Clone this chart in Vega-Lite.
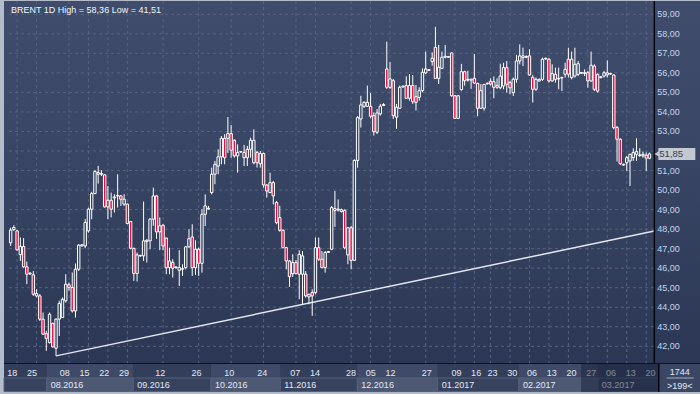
{
  "$schema": "https://vega.github.io/schema/vega-lite/v6.json",
  "autosize": {"type": "pad"},
  "padding": {"left": 3, "top": 0, "right": 0, "bottom": 3},
  "background": "#b4bccb",
  "spacing": 0,
  "bounds": "flush",
  "config": {"view": {"stroke": null}, "font": "Liberation Sans", "axis": {"disable": true}},
  "datasets": {
    "candles": [
      {"i":0,"o":47.3,"h":48.07,"l":47.14,"c":47.95},
      {"i":1,"o":47.98,"h":48.2,"l":47.9,"c":48.08},
      {"i":2,"o":47.91,"h":47.94,"l":46.89,"c":46.94},
      {"i":3,"o":46.7,"h":47.57,"l":46.37,"c":47.12},
      {"i":4,"o":47.11,"h":47.54,"l":46.03,"c":46.07},
      {"i":5,"o":46.07,"h":46.34,"l":45.18,"c":45.69},
      {"i":6,"o":45.74,"h":45.8,"l":45.66,"c":45.7},
      {"i":7,"o":45.66,"h":45.86,"l":44.58,"c":44.67},
      {"i":8,"o":44.58,"h":44.92,"l":44.5,"c":44.7},
      {"i":9,"o":44.58,"h":44.67,"l":43.3,"c":43.39},
      {"i":10,"o":43.39,"h":43.73,"l":42.59,"c":42.62},
      {"i":11,"o":42.65,"h":42.79,"l":41.77,"c":42.41},
      {"i":12,"o":42.19,"h":43.73,"l":42.14,"c":43.64},
      {"i":13,"o":43.17,"h":43.22,"l":41.94,"c":41.97},
      {"i":14,"o":41.9,"h":43.44,"l":41.51,"c":43.39},
      {"i":15,"o":43.39,"h":44.33,"l":42.53,"c":44.19},
      {"i":16,"o":43.47,"h":44.5,"l":43.45,"c":44.41},
      {"i":17,"o":44.33,"h":45.69,"l":44.24,"c":45.18},
      {"i":18,"o":45.15,"h":45.27,"l":44.85,"c":45.01},
      {"i":19,"o":45.01,"h":45.78,"l":43.73,"c":43.81},
      {"i":20,"o":43.81,"h":46.24,"l":43.47,"c":45.95},
      {"i":21,"o":45.95,"h":47.23,"l":45.86,"c":47.18},
      {"i":22,"o":47.14,"h":47.23,"l":47.1,"c":47.2},
      {"i":23,"o":47.14,"h":48.51,"l":47.02,"c":48.34},
      {"i":24,"o":47.91,"h":49.1,"l":47.82,"c":49.02},
      {"i":25,"o":49.02,"h":49.91,"l":48.51,"c":49.82},
      {"i":26,"o":49.82,"h":51.02,"l":49.79,"c":50.95},
      {"i":27,"o":50.9,"h":51.24,"l":50.33,"c":50.81},
      {"i":28,"o":50.81,"h":51.02,"l":50.72,"c":50.85},
      {"i":29,"o":50.78,"h":50.81,"l":49.1,"c":49.14},
      {"i":30,"o":49.14,"h":50.21,"l":48.51,"c":49.48},
      {"i":31,"o":49.48,"h":49.87,"l":48.6,"c":49.02},
      {"i":32,"o":49.6,"h":49.79,"l":48.85,"c":49.65},
      {"i":33,"o":49.7,"h":50.81,"l":49.1,"c":49.72},
      {"i":34,"o":49.7,"h":49.75,"l":49.19,"c":49.53},
      {"i":35,"o":49.28,"h":49.79,"l":49.19,"c":49.53},
      {"i":36,"o":49.28,"h":49.31,"l":48.25,"c":48.29},
      {"i":37,"o":48.39,"h":48.42,"l":46.97,"c":47.02},
      {"i":38,"o":47.01,"h":47.06,"l":45.35,"c":45.73},
      {"i":39,"o":45.73,"h":46.8,"l":45.32,"c":46.68},
      {"i":40,"o":46.63,"h":46.68,"l":46.58,"c":46.66},
      {"i":41,"o":46.63,"h":49.41,"l":46.37,"c":47.4},
      {"i":42,"o":47.43,"h":47.48,"l":46.29,"c":47.36},
      {"i":43,"o":47.4,"h":48.56,"l":46.97,"c":48.51},
      {"i":44,"o":48.51,"h":50.13,"l":48.17,"c":49.7},
      {"i":45,"o":49.7,"h":49.75,"l":47.5,"c":47.86},
      {"i":46,"o":47.86,"h":48.6,"l":46.92,"c":48.17},
      {"i":47,"o":48.2,"h":48.25,"l":46.92,"c":47.14},
      {"i":48,"o":47.54,"h":47.57,"l":45.69,"c":46.03},
      {"i":49,"o":46.03,"h":47.05,"l":45.69,"c":46.37},
      {"i":50,"o":46.29,"h":46.46,"l":45.52,"c":46.0},
      {"i":51,"o":46.06,"h":46.1,"l":45.97,"c":46.03},
      {"i":52,"o":45.89,"h":46.92,"l":45.09,"c":46.03},
      {"i":53,"o":45.97,"h":46.2,"l":45.6,"c":45.95},
      {"i":54,"o":46.03,"h":47.14,"l":45.94,"c":47.09},
      {"i":55,"o":47.09,"h":48.0,"l":47.05,"c":47.51},
      {"i":56,"o":47.6,"h":48.25,"l":45.6,"c":46.03},
      {"i":57,"o":46.03,"h":47.43,"l":45.65,"c":46.97},
      {"i":58,"o":46.97,"h":47.05,"l":45.6,"c":46.25},
      {"i":59,"o":46.25,"h":49.02,"l":45.77,"c":48.76},
      {"i":60,"o":48.76,"h":49.78,"l":48.16,"c":49.19},
      {"i":61,"o":49.03,"h":49.19,"l":49.0,"c":49.07},
      {"i":62,"o":49.87,"h":51.15,"l":49.78,"c":50.81},
      {"i":63,"o":50.81,"h":51.49,"l":50.3,"c":51.32},
      {"i":64,"o":51.23,"h":52.09,"l":50.81,"c":51.7},
      {"i":65,"o":51.7,"h":52.77,"l":51.32,"c":52.65},
      {"i":66,"o":52.65,"h":52.86,"l":51.32,"c":51.66},
      {"i":67,"o":52.65,"h":53.74,"l":51.9,"c":52.89},
      {"i":68,"o":52.89,"h":53.33,"l":51.66,"c":52.04},
      {"i":69,"o":52.55,"h":52.6,"l":51.66,"c":51.75},
      {"i":70,"o":51.75,"h":52.34,"l":50.89,"c":51.92},
      {"i":71,"o":51.95,"h":52.0,"l":51.9,"c":51.97},
      {"i":72,"o":51.66,"h":52.31,"l":51.23,"c":51.92},
      {"i":73,"o":52.09,"h":52.26,"l":51.23,"c":51.66},
      {"i":74,"o":52.09,"h":52.68,"l":51.66,"c":52.55},
      {"i":75,"o":51.4,"h":53.11,"l":51.32,"c":52.55},
      {"i":76,"o":51.92,"h":52.0,"l":51.15,"c":51.4},
      {"i":77,"o":51.35,"h":52.0,"l":51.15,"c":51.87},
      {"i":78,"o":51.87,"h":51.92,"l":50.12,"c":50.26},
      {"i":79,"o":50.26,"h":50.3,"l":49.61,"c":49.95},
      {"i":80,"o":49.87,"h":50.89,"l":49.87,"c":50.38},
      {"i":81,"o":50.38,"h":50.47,"l":49.27,"c":49.7},
      {"i":82,"o":49.36,"h":49.44,"l":48.25,"c":48.33},
      {"i":83,"o":48.59,"h":49.19,"l":47.87,"c":47.94},
      {"i":84,"o":47.94,"h":47.99,"l":47.02,"c":47.05},
      {"i":85,"o":47.05,"h":47.09,"l":45.94,"c":46.37},
      {"i":86,"o":46.37,"h":46.41,"l":45.04,"c":45.57},
      {"i":87,"o":45.72,"h":46.71,"l":45.55,"c":46.29},
      {"i":88,"o":46.29,"h":46.41,"l":45.69,"c":45.72},
      {"i":89,"o":45.69,"h":46.92,"l":44.41,"c":46.71},
      {"i":90,"o":45.69,"h":46.88,"l":44.15,"c":46.63},
      {"i":91,"o":45.69,"h":45.85,"l":44.49,"c":44.58},
      {"i":92,"o":44.53,"h":44.7,"l":44.15,"c":44.66},
      {"i":93,"o":44.75,"h":44.92,"l":43.56,"c":44.58},
      {"i":94,"o":44.75,"h":47.57,"l":44.66,"c":47.05},
      {"i":95,"o":47.05,"h":47.57,"l":46.37,"c":46.46},
      {"i":96,"o":46.46,"h":46.88,"l":46.0,"c":46.03},
      {"i":97,"o":46.03,"h":46.88,"l":45.77,"c":46.8},
      {"i":98,"o":46.81,"h":46.88,"l":46.78,"c":46.85},
      {"i":99,"o":46.97,"h":49.19,"l":46.92,"c":49.1},
      {"i":100,"o":49.05,"h":49.95,"l":48.11,"c":48.96},
      {"i":101,"o":48.98,"h":49.52,"l":48.9,"c":49.02},
      {"i":102,"o":48.9,"h":49.05,"l":48.85,"c":48.99},
      {"i":103,"o":48.96,"h":49.01,"l":46.97,"c":47.05},
      {"i":104,"o":46.68,"h":48.11,"l":46.2,"c":48.07},
      {"i":105,"o":48.07,"h":48.16,"l":45.94,"c":46.4},
      {"i":106,"o":46.4,"h":51.57,"l":46.37,"c":51.52},
      {"i":107,"o":51.52,"h":53.79,"l":51.15,"c":53.71},
      {"i":108,"o":53.64,"h":54.83,"l":53.2,"c":54.36},
      {"i":109,"o":54.29,"h":54.55,"l":54.2,"c":54.49},
      {"i":110,"o":54.29,"h":55.35,"l":54.25,"c":54.49},
      {"i":111,"o":54.29,"h":54.97,"l":53.67,"c":53.78},
      {"i":112,"o":53.81,"h":53.98,"l":52.79,"c":52.99},
      {"i":113,"o":52.96,"h":54.15,"l":52.87,"c":53.95},
      {"i":114,"o":53.9,"h":54.41,"l":53.81,"c":54.29},
      {"i":115,"o":54.33,"h":54.45,"l":54.3,"c":54.38},
      {"i":116,"o":56.2,"h":57.6,"l":55.18,"c":55.26},
      {"i":117,"o":55.26,"h":56.55,"l":55.18,"c":55.69},
      {"i":118,"o":55.6,"h":55.69,"l":53.64,"c":53.81},
      {"i":119,"o":53.73,"h":54.41,"l":53.13,"c":54.24},
      {"i":120,"o":54.19,"h":55.35,"l":54.15,"c":55.26},
      {"i":121,"o":55.28,"h":55.35,"l":55.25,"c":55.32},
      {"i":122,"o":55.35,"h":55.82,"l":54.66,"c":54.7},
      {"i":123,"o":54.7,"h":55.94,"l":54.58,"c":55.35},
      {"i":124,"o":55.35,"h":55.89,"l":54.41,"c":54.53},
      {"i":125,"o":54.78,"h":55.38,"l":54.07,"c":54.49},
      {"i":126,"o":54.75,"h":55.26,"l":54.58,"c":55.09},
      {"i":127,"o":55.09,"h":56.23,"l":55.0,"c":56.03},
      {"i":128,"o":56.0,"h":57.09,"l":55.94,"c":56.2},
      {"i":129,"o":56.13,"h":56.2,"l":56.1,"c":56.17},
      {"i":130,"o":56.58,"h":57.05,"l":56.37,"c":56.75},
      {"i":131,"o":57.31,"h":58.36,"l":55.69,"c":55.72},
      {"i":132,"o":55.72,"h":57.43,"l":55.43,"c":56.29},
      {"i":133,"o":56.23,"h":57.09,"l":56.2,"c":56.8},
      {"i":134,"o":56.8,"h":57.43,"l":56.75,"c":56.85},
      {"i":135,"o":56.8,"h":56.86,"l":56.78,"c":56.84},
      {"i":136,"o":57.02,"h":57.05,"l":54.78,"c":54.83},
      {"i":137,"o":54.83,"h":54.86,"l":53.64,"c":53.67},
      {"i":138,"o":53.67,"h":54.86,"l":53.64,"c":54.83},
      {"i":139,"o":55.14,"h":56.46,"l":55.09,"c":56.06},
      {"i":140,"o":56.06,"h":56.11,"l":55.35,"c":55.6},
      {"i":141,"o":55.63,"h":56.11,"l":55.55,"c":55.67},
      {"i":142,"o":55.63,"h":55.69,"l":55.18,"c":55.68},
      {"i":143,"o":55.72,"h":56.97,"l":55.43,"c":55.48},
      {"i":144,"o":55.46,"h":55.5,"l":53.78,"c":54.19},
      {"i":145,"o":54.19,"h":55.43,"l":54.15,"c":55.09},
      {"i":146,"o":54.19,"h":55.43,"l":54.07,"c":55.41},
      {"i":147,"o":55.44,"h":55.5,"l":55.4,"c":55.47},
      {"i":148,"o":55.57,"h":55.72,"l":55.35,"c":55.43},
      {"i":149,"o":55.26,"h":55.82,"l":54.7,"c":55.55},
      {"i":150,"o":55.35,"h":55.72,"l":55.18,"c":55.26},
      {"i":151,"o":55.24,"h":56.47,"l":55.16,"c":55.84},
      {"i":152,"o":55.33,"h":56.52,"l":55.16,"c":56.27},
      {"i":153,"o":56.27,"h":56.61,"l":54.99,"c":55.42},
      {"i":154,"o":55.5,"h":55.59,"l":54.9,"c":55.24},
      {"i":155,"o":54.99,"h":55.76,"l":54.82,"c":55.67},
      {"i":156,"o":55.67,"h":56.92,"l":55.5,"c":56.61},
      {"i":157,"o":56.61,"h":57.46,"l":56.44,"c":56.87},
      {"i":158,"o":56.78,"h":57.29,"l":56.35,"c":56.87},
      {"i":159,"o":56.8,"h":56.9,"l":56.75,"c":56.84},
      {"i":160,"o":56.87,"h":57.21,"l":55.84,"c":55.89},
      {"i":161,"o":55.76,"h":55.89,"l":54.48,"c":55.16},
      {"i":162,"o":55.16,"h":55.76,"l":55.07,"c":55.67},
      {"i":163,"o":55.59,"h":55.72,"l":55.55,"c":55.67},
      {"i":164,"o":55.67,"h":56.78,"l":55.59,"c":56.7},
      {"i":165,"o":56.71,"h":56.78,"l":56.68,"c":56.75},
      {"i":166,"o":56.7,"h":56.75,"l":55.5,"c":55.59},
      {"i":167,"o":55.59,"h":56.44,"l":55.55,"c":55.96},
      {"i":168,"o":55.93,"h":56.27,"l":55.5,"c":55.67},
      {"i":169,"o":55.69,"h":56.27,"l":55.16,"c":55.72},
      {"i":170,"o":55.74,"h":55.8,"l":55.07,"c":55.77},
      {"i":171,"o":55.93,"h":56.52,"l":55.76,"c":56.18},
      {"i":172,"o":56.7,"h":57.29,"l":55.76,"c":55.93},
      {"i":173,"o":55.76,"h":57.09,"l":55.67,"c":56.7},
      {"i":174,"o":55.84,"h":57.29,"l":55.76,"c":56.44},
      {"i":175,"o":55.93,"h":56.61,"l":55.84,"c":56.47},
      {"i":176,"o":55.98,"h":56.05,"l":55.95,"c":56.02},
      {"i":177,"o":55.97,"h":56.18,"l":55.84,"c":56.01},
      {"i":178,"o":56.01,"h":56.1,"l":55.24,"c":55.59},
      {"i":179,"o":55.59,"h":57.09,"l":55.55,"c":56.39},
      {"i":180,"o":56.35,"h":56.44,"l":55.07,"c":55.16},
      {"i":181,"o":55.93,"h":55.96,"l":54.99,"c":55.07},
      {"i":182,"o":55.76,"h":55.84,"l":55.72,"c":55.8},
      {"i":183,"o":55.84,"h":56.1,"l":55.76,"c":56.01},
      {"i":184,"o":55.9,"h":56.64,"l":55.76,"c":56.0},
      {"i":185,"o":55.94,"h":56.0,"l":55.9,"c":55.97},
      {"i":186,"o":55.89,"h":55.93,"l":53.11,"c":53.2},
      {"i":187,"o":53.2,"h":53.28,"l":51.46,"c":52.6},
      {"i":188,"o":52.6,"h":52.65,"l":51.28,"c":51.35},
      {"i":189,"o":51.32,"h":51.35,"l":51.25,"c":51.28},
      {"i":190,"o":51.4,"h":51.75,"l":50.98,"c":51.66},
      {"i":191,"o":51.49,"h":51.87,"l":50.21,"c":51.83},
      {"i":192,"o":51.66,"h":52.14,"l":51.49,"c":51.92},
      {"i":193,"o":51.83,"h":52.65,"l":51.49,"c":51.97},
      {"i":194,"o":51.77,"h":52.14,"l":51.7,"c":51.8},
      {"i":195,"o":51.83,"h":51.97,"l":51.66,"c":51.75},
      {"i":196,"o":51.78,"h":51.92,"l":50.98,"c":51.63},
      {"i":197,"o":51.63,"h":51.92,"l":51.58,"c":51.85}
    ],
    "days": [
      {"i":2,"d":"18"},{"i":8,"d":"25"},{"i":18,"d":"08"},{"i":24,"d":"15"},{"i":30,"d":"22"},{"i":36,"d":"29"},
      {"i":47,"d":"12"},{"i":58,"d":"26"},{"i":68,"d":"10"},{"i":78,"d":"24"},{"i":88,"d":"07"},{"i":94,"d":"14"},
      {"i":105,"d":"28"},{"i":111,"d":"05"},{"i":117,"d":"12"},{"i":128,"d":"27"},{"i":137,"d":"09"},{"i":143,"d":"16"},
      {"i":148,"d":"23"},{"i":154,"d":"30"},{"i":160,"d":"06"},{"i":166,"d":"13"},{"i":172,"d":"20"},{"i":178,"d":"27"},
      {"i":184,"d":"06"},{"i":190,"d":"13"},{"i":196,"d":"20"}
    ],
    "months": [
      {"m":"07.2016","n":7,"from":-0.5,"to":12.5},
      {"m":"08.2016","n":8,"from":12.5,"to":38.8},
      {"m":"09.2016","n":9,"from":38.8,"to":62.4},
      {"m":"10.2016","n":10,"from":62.4,"to":83.5},
      {"m":"11.2016","n":11,"from":83.5,"to":106.9},
      {"m":"12.2016","n":12,"from":106.9,"to":131.3},
      {"m":"01.2017","n":1,"from":131.3,"to":156.0},
      {"m":"02.2017","n":2,"from":156.0,"to":180.0},
      {"m":"03.2017","n":3,"from":180.0,"to":198.5}
    ],
    "levels": [
      {"lv":42,"t":"42,00"},{"lv":43,"t":"43,00"},{"lv":44,"t":"44,00"},{"lv":45,"t":"45,00"},{"lv":46,"t":"46,00"},
      {"lv":47,"t":"47,00"},{"lv":48,"t":"48,00"},{"lv":49,"t":"49,00"},{"lv":50,"t":"50,00"},{"lv":51,"t":"51,00"},
      {"lv":52,"t":""},{"lv":53,"t":"53,00"},{"lv":54,"t":"54,00"},{"lv":55,"t":"55,00"},{"lv":56,"t":"56,00"},
      {"lv":57,"t":"57,00"},{"lv":58,"t":"58,00"},{"lv":59,"t":"59,00"}
    ],
    "trend": [{"i":14,"p":41.51},{"i":198.5,"p":47.9}],
    "last": [{"p":51.85,"t":"51,85"}]
  },
  "vconcat": [
    {
      "width": 697,
      "height": 363,
      "view": {
        "stroke": null,
        "fill": {"gradient": "linear", "x1": 0, "y1": 0, "x2": 0, "y2": 1,
          "stops": [{"offset": 0, "color": "#3f4c6c"}, {"offset": 0.35, "color": "#3a4766"}, {"offset": 1, "color": "#2b3754"}]}
      },
      "layer": [
        {
          "data": {"name": "levels"},
          "mark": {"type": "rule", "color": "#56637f", "strokeDash": [3, 3], "strokeWidth": 1},
          "encoding": {
            "x": {"datum": -0.5, "type": "quantitative", "scale": {"domain": [-0.5, 211.35], "nice": false, "zero": false}},
            "x2": {"datum": 198.5},
            "y": {"field": "lv", "type": "quantitative", "scale": {"domain": [41.094, 59.681], "nice": false, "zero": false}}
          }
        },
        {
          "data": {"name": "days"},
          "mark": {"type": "rule", "color": "#56637f", "strokeDash": [3, 3], "strokeWidth": 1},
          "encoding": {
            "x": {"field": "i", "type": "quantitative"}
          }
        },
        {
          "data": {"name": "levels"},
          "mark": {"type": "text", "align": "left", "baseline": "middle", "dx": 3, "fontSize": 9, "color": "#c3d6ee", "font": "Liberation Sans"},
          "encoding": {
            "x": {"datum": 198.5, "type": "quantitative"},
            "y": {"field": "lv", "type": "quantitative"},
            "text": {"field": "t"}
          }
        },
        {
          "data": {"name": "trend"},
          "mark": {"type": "line", "color": "#e4e6ee", "strokeWidth": 1.5},
          "encoding": {
            "x": {"field": "i", "type": "quantitative"},
            "y": {"field": "p", "type": "quantitative"}
          }
        },
        {
          "data": {"name": "candles"},
          "mark": {"type": "rule", "color": "#ffffff", "strokeWidth": 1},
          "encoding": {
            "x": {"field": "i", "type": "quantitative"},
            "y": {"field": "l", "type": "quantitative"},
            "y2": {"field": "h"}
          }
        },
        {
          "data": {"name": "candles"},
          "mark": {"type": "bar", "size": 2.4, "stroke": "#ffffff", "strokeWidth": 1},
          "encoding": {
            "x": {"field": "i", "type": "quantitative"},
            "y": {"field": "o", "type": "quantitative"},
            "y2": {"field": "c"},
            "fill": {"condition": {"test": "datum.c < datum.o", "value": "#ee0a3a"}, "value": "#36435f"}
          }
        },
        {
          "data": {"values": [{}]},
          "mark": {"type": "rule", "color": "#05070c", "strokeWidth": 1.5},
          "encoding": {"x": {"datum": 198.5, "type": "quantitative"}}
        },
        {
          "data": {"values": [{}]},
          "mark": {"type": "rule", "color": "#05070c", "strokeWidth": 1.5},
          "encoding": {"y": {"datum": 41.094, "type": "quantitative"}}
        },
        {
          "data": {"values": [{"t": "BRENT 1D High = 58,36 Low = 41,51"}]},
          "mark": {"type": "text", "align": "left", "baseline": "alphabetic", "dx": 2, "dy": 12, "fontSize": 9, "color": "#f4f6fa", "font": "Liberation Sans"},
          "encoding": {
            "x": {"datum": -0.5, "type": "quantitative"},
            "y": {"datum": 59.681, "type": "quantitative"},
            "text": {"field": "t"}
          }
        },
        {
          "data": {"name": "last"},
          "mark": {"type": "rect", "fill": "#c4c8d0", "xOffset": 4, "x2Offset": 41, "yOffset": -6, "y2Offset": 6},
          "encoding": {
            "x": {"datum": 198.5, "type": "quantitative"},
            "x2": {"datum": 198.5},
            "y": {"field": "p", "type": "quantitative"},
            "y2": {"field": "p"}
          }
        },
        {
          "data": {"name": "last"},
          "mark": {"type": "point", "shape": "triangle-left", "filled": true, "color": "#c4c8d0", "opacity": 1, "size": 45, "xOffset": 3},
          "encoding": {
            "x": {"datum": 198.5, "type": "quantitative"},
            "y": {"field": "p", "type": "quantitative"}
          }
        },
        {
          "data": {"name": "last"},
          "mark": {"type": "text", "align": "left", "baseline": "middle", "dx": 5, "fontSize": 9.5, "color": "#34405c", "font": "Liberation Sans"},
          "encoding": {
            "x": {"datum": 198.5, "type": "quantitative"},
            "y": {"field": "p", "type": "quantitative"},
            "text": {"field": "t"}
          }
        }
      ]
    },
    {
      "width": 697,
      "height": 28,
      "view": {"stroke": null, "fill": "#34405c"},
      "layer": [
        {
          "data": {"name": "months"},
          "mark": {"type": "rect"},
          "encoding": {
            "x": {"field": "from", "type": "quantitative", "scale": {"domain": [-0.5, 211.35], "nice": false, "zero": false}},
            "x2": {"field": "to"},
            "y": {"datum": 0, "type": "quantitative", "scale": {"domain": [0, 2], "reverse": true, "nice": false, "zero": false}},
            "y2": {"datum": 1},
            "fill": {"condition": {"test": "datum.n % 2 == 0", "value": "#3e4a67"}, "value": "#323e5a"}
          }
        },
        {
          "data": {"name": "months"},
          "mark": {"type": "rect", "stroke": "#56617b", "strokeWidth": 1},
          "encoding": {
            "x": {"field": "from", "type": "quantitative"},
            "x2": {"field": "to"},
            "y": {"datum": 1, "type": "quantitative"},
            "y2": {"datum": 1.97},
            "fill": {"condition": {"test": "datum.n % 2 == 0", "value": "#4d5872"}, "value": "#37435e"}
          }
        },
        {
          "data": {"name": "days"},
          "mark": {"type": "text", "align": "center", "baseline": "middle", "dy": 2, "fontSize": 9, "color": "#e4e9f2", "font": "Liberation Sans"},
          "encoding": {
            "x": {"field": "i", "type": "quantitative"},
            "y": {"datum": 0.5, "type": "quantitative"},
            "text": {"field": "d"}
          }
        },
        {
          "data": {"name": "months"},
          "transform": [{"filter": "datum.n != 7"}],
          "mark": {"type": "text", "align": "left", "baseline": "middle", "dx": 4, "fontSize": 9, "color": "#e4e9f2", "font": "Liberation Sans"},
          "encoding": {
            "x": {"field": "from", "type": "quantitative"},
            "y": {"datum": 1.5, "type": "quantitative"},
            "text": {"field": "m"}
          }
        },
        {
          "data": {"values": [{"a": 174.9, "b": 198.5}]},
          "mark": {"type": "rect", "fill": "#182038", "opacity": 0.5},
          "encoding": {
            "x": {"field": "a", "type": "quantitative"},
            "x2": {"field": "b"},
            "y": {"datum": 0, "type": "quantitative"},
            "y2": {"datum": 2}
          }
        },
        {
          "data": {"values": [{}]},
          "mark": {"type": "rect", "fill": "#3a4663", "xOffset": 1, "x2Offset": 43},
          "encoding": {
            "x": {"datum": 198.5, "type": "quantitative"},
            "x2": {"datum": 198.5},
            "y": {"datum": 0, "type": "quantitative"},
            "y2": {"datum": 2}
          }
        },
        {
          "data": {"values": [{}]},
          "mark": {"type": "rule", "color": "#05070c", "strokeWidth": 1.5},
          "encoding": {"x": {"datum": 198.5, "type": "quantitative"}}
        },
        {
          "data": {"values": [{}]},
          "mark": {"type": "rule", "color": "#a4acbc", "strokeWidth": 1, "xOffset": 8, "x2Offset": 35},
          "encoding": {
            "x": {"datum": 198.5, "type": "quantitative"},
            "x2": {"datum": 198.5},
            "y": {"datum": 1, "type": "quantitative"}
          }
        },
        {
          "data": {"values": [{"t": "1744", "r": 0.5}, {"t": ">199<", "r": 1.5}]},
          "mark": {"type": "text", "align": "center", "baseline": "middle", "dx": 21, "dy": 1, "fontSize": 9, "color": "#e4e9f2", "font": "Liberation Sans"},
          "encoding": {
            "x": {"datum": 198.5, "type": "quantitative"},
            "y": {"field": "r", "type": "quantitative"},
            "text": {"field": "t"}
          }
        }
      ]
    }
  ]
}
